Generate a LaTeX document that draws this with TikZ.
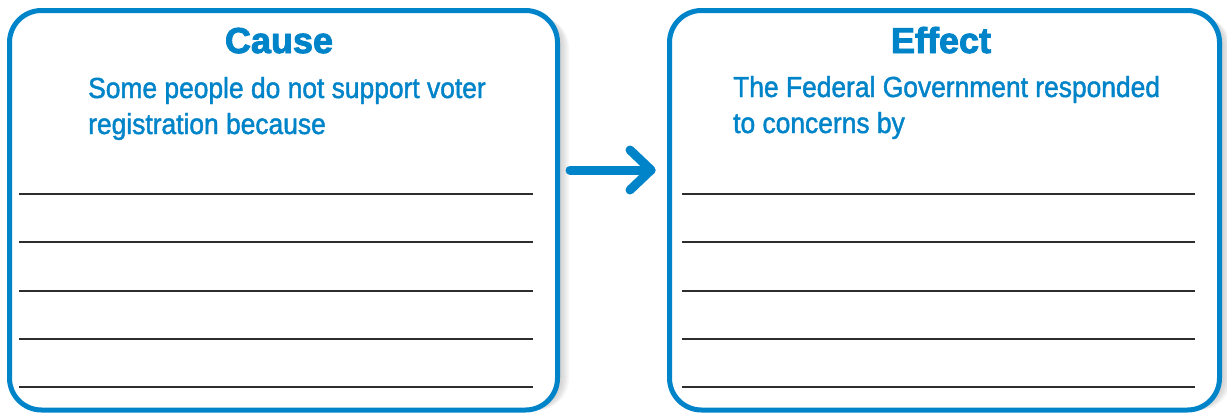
\documentclass[tikz,border=0pt]{standalone}
\usepackage{fontspec}
\setmainfont{Liberation Sans}
\newfontfamily\bodyfont[FakeStretch=0.91,FakeBold=1.5]{Liberation Sans}
\newfontfamily\titlefont[FakeBold=2.5]{Liberation Sans Bold}
\definecolor{cblue}{RGB}{0,132,201}
\definecolor{rulegray}{RGB}{45,45,45}
\begin{document}
\begin{tikzpicture}[x=1pt,y=-1pt,
  box/.style={draw=cblue, line width=5pt, fill=white, rounded corners=32pt,
    minimum width=548pt, minimum height=399.5pt, inner sep=0pt},
  title/.style={font=\titlefont\fontsize{36}{36}\selectfont, text=cblue, anchor=base, inner sep=0pt},
  body/.style={font=\bodyfont\fontsize{29}{29}\selectfont, text=cblue, anchor=base west, inner sep=0pt},
  writeline/.style={draw=rulegray, line width=2pt},
  arrowline/.style={draw=cblue, line width=9pt, line cap=round, line join=round}]
\useasboundingbox (0,0) rectangle (1227,415);
% shadows
\foreach \i in {1,...,12}{
  \fill[black, opacity=0.02, rounded corners=32pt] (9.5+\i,10.5+\i*0.5) rectangle (557.5+\i,410);
  \fill[black, opacity=0.02, rounded corners=32pt] (669.5+\i,10.5+\i*0.5) rectangle (1219.5+\i,410);
}
\node[box] (cause) at (283.5,210.25) {};
\node[box, minimum width=550pt] (effect) at (944.5,210.25) {};
% titles
\node[title] (causeT) at (279,53) {Cause};
\node[title] (effectT) at (941,53) {Effect};
% body text
\node[body] (c1) at (88,98) {Some people do not support voter};
\node[body] (c2) at (88,134) {registration because};
\node[body] (e1) at (733,97) {The Federal Government responded};
\node[body] (e2) at (733,133) {to concerns by};
% writing lines
\foreach \y [count=\k] in {194,242.3,290.5,338.7,387}{
  \coordinate (cl\k) at (19,\y);
  \coordinate (cr\k) at (533,\y);
  \coordinate (el\k) at (682,\y);
  \coordinate (er\k) at (1195,\y);
  \draw[writeline] (cl\k) -- (cr\k);
  \draw[writeline] (el\k) -- (er\k);
}
% arrow
\coordinate (as) at (570,170);
\coordinate (at) at (651,170);
\coordinate (au) at (630,150);
\coordinate (ad) at (630,190);
\draw[arrowline] (as) -- (at);
\draw[arrowline] (au) -- (at) -- (ad);
\end{tikzpicture}
\end{document}
